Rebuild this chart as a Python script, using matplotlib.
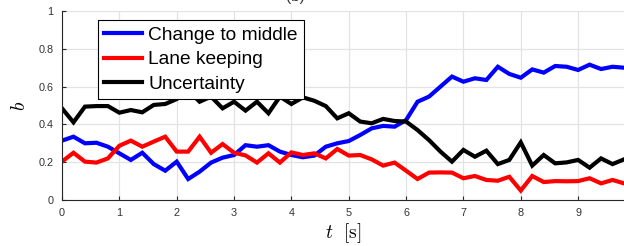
import numpy as np
import matplotlib
matplotlib.use("Agg")
import matplotlib.pyplot as plt

# time axis, one sample every 0.2 s
t = np.arange(50) * 0.2

change_to_middle = [0.314, 0.335, 0.300, 0.303, 0.282, 0.247, 0.212, 0.250, 0.190, 0.155,
                    0.203, 0.111, 0.150, 0.198, 0.224, 0.238, 0.290, 0.282, 0.290, 0.256,
                    0.238, 0.226, 0.235, 0.282, 0.300, 0.312, 0.344, 0.379, 0.392, 0.388,
                    0.423, 0.520, 0.547, 0.600, 0.653, 0.626, 0.644, 0.635, 0.705, 0.667,
                    0.647, 0.691, 0.674, 0.709, 0.705, 0.688, 0.716, 0.693, 0.705, 0.700]
lane_keeping = [0.203, 0.250, 0.203, 0.198, 0.220, 0.287, 0.314, 0.282, 0.309, 0.335,
                0.256, 0.256, 0.335, 0.250, 0.296, 0.250, 0.236, 0.198, 0.247, 0.198,
                0.252, 0.238, 0.247, 0.220, 0.270, 0.235, 0.238, 0.215, 0.182, 0.198,
                0.155, 0.111, 0.145, 0.146, 0.145, 0.115, 0.127, 0.106, 0.102, 0.123,
                0.050, 0.127, 0.095, 0.100, 0.099, 0.100, 0.115, 0.088, 0.106, 0.088]
uncertainty = [0.485, 0.411, 0.494, 0.497, 0.497, 0.462, 0.476, 0.464, 0.503, 0.508,
               0.534, 0.580, 0.520, 0.547, 0.485, 0.520, 0.473, 0.520, 0.459, 0.547,
               0.508, 0.543, 0.525, 0.497, 0.432, 0.459, 0.415, 0.406, 0.429, 0.418,
               0.415, 0.370, 0.317, 0.256, 0.203, 0.265, 0.229, 0.261, 0.190, 0.212,
               0.305, 0.182, 0.238, 0.194, 0.199, 0.212, 0.171, 0.220, 0.190, 0.215]

labels = ["Change to middle", "Lane keeping", "Uncertainty"]
colors = ["#0000ff", "#ff0000", "#000000"]

plt.rcParams["font.family"] = ["Liberation Sans", "DejaVu Sans"]
plt.rcParams["mathtext.fontset"] = "cm"

W, H = 624, 246
fig = plt.figure(figsize=(W / 100, H / 100), dpi=100)
ax = fig.add_axes([62 / W, (H - 200) / H, 562 / W, 189 / H])

for y, lab, c in zip([change_to_middle, lane_keeping, uncertainty], labels, colors):
    ax.plot(t, y, color=c, lw=3.0, label=lab, solid_joinstyle="miter")

ax.set_xlim(0, 9.8)
ax.set_ylim(0, 1)
ax.set_xticks(range(10))
ax.set_yticks([0, 0.2, 0.4, 0.6, 0.8, 1])
ax.set_yticklabels(["0", "0.2", "0.4", "0.6", "0.8", "1"])
ax.grid(True, color="#e3e3e3", lw=0.9)
ax.set_axisbelow(True)
for s in ["top", "right"]:
    ax.spines[s].set_visible(False)
for s in ["left", "bottom"]:
    ax.spines[s].set_color("#262626")
    ax.spines[s].set_linewidth(0.8)
ax.tick_params(direction="in", length=3, width=0.8, colors="#262626",
               labelsize=7.8, labelcolor="#333333", pad=6)

ax.set_xlabel(r"$t\ \ [\mathrm{s}]$", fontsize=14, labelpad=2)
ax.set_ylabel(r"$b$", fontsize=14, labelpad=7)

leg = ax.legend(loc="upper left", bbox_to_anchor=(36 / 562, 180 / 189),
                fontsize=13.8, frameon=True, fancybox=False, handlelength=2.0,
                handletextpad=0.3, labelspacing=0.38, borderpad=0.32,
                borderaxespad=0)
leg.get_frame().set_edgecolor("#000000")
leg.get_frame().set_linewidth(0.8)
leg.get_frame().set_alpha(1)

# subplot tag, mostly cut off at the top edge as in the original
fig.text(295 / W, 1.0 + 3 / H, "(b)", ha="center", va="center", fontsize=11, color="#333333")

fig.savefig("out.png", dpi=100)
